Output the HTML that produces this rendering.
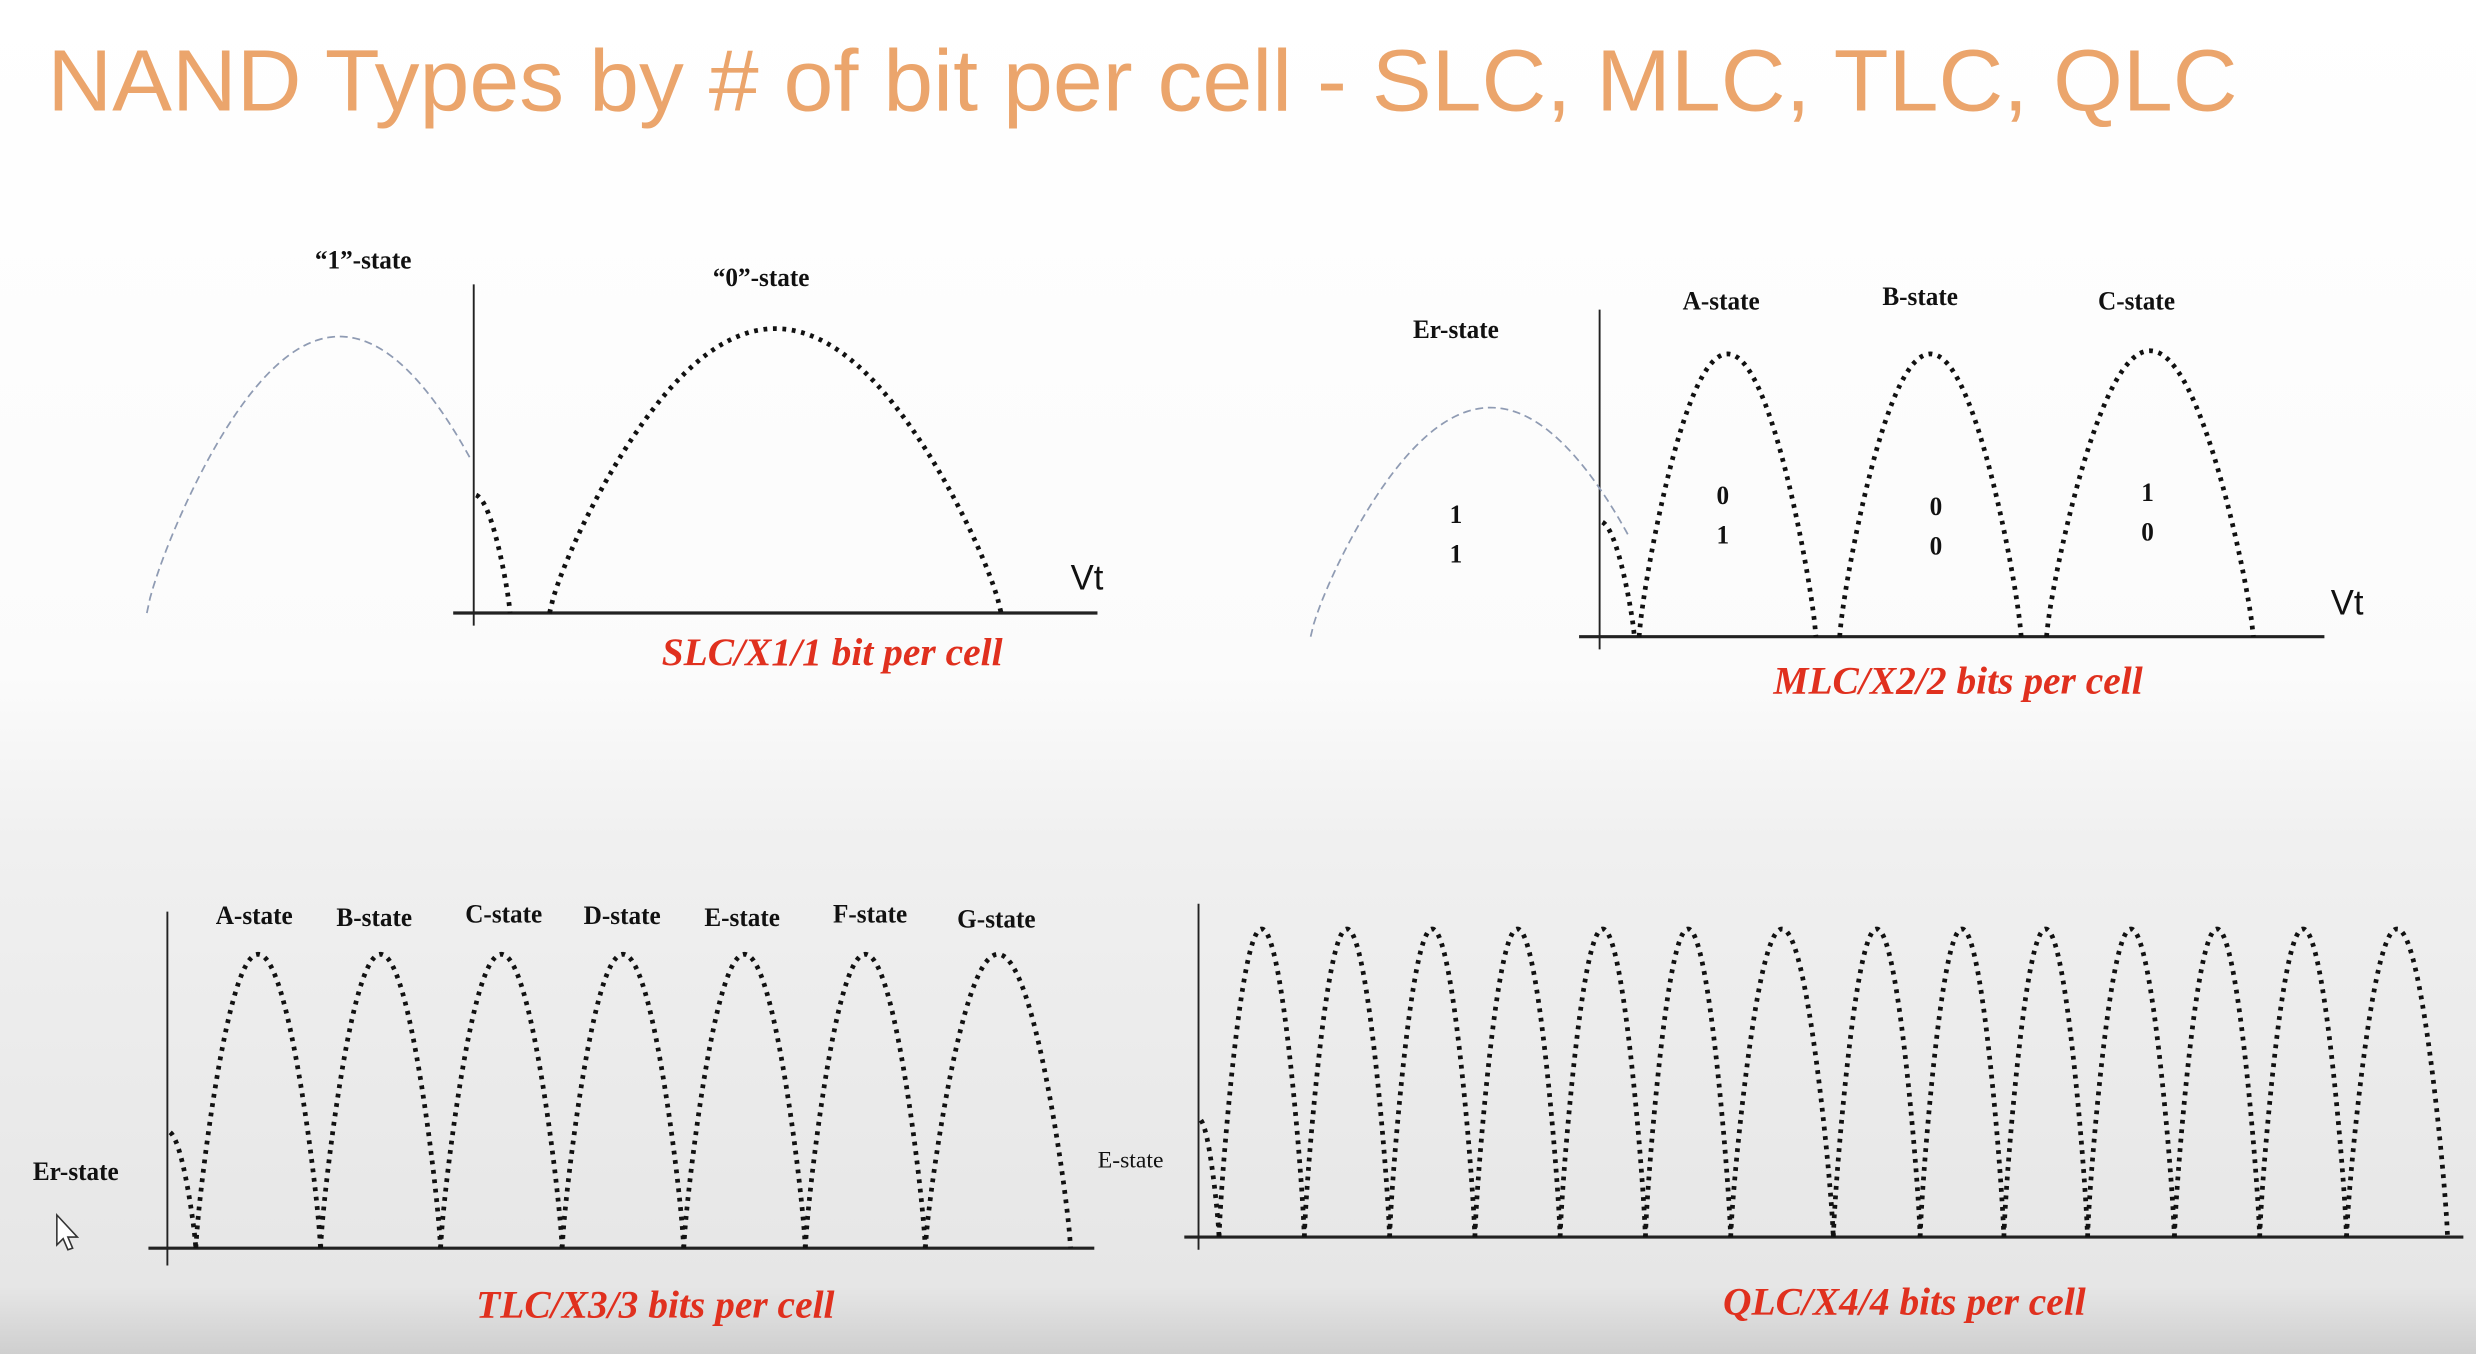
<!DOCTYPE html>
<html><head><meta charset="utf-8"><style>
html,body{margin:0;padding:0;width:2476px;height:1354px;overflow:hidden;background:#fff}
svg{display:block}
.lb{font-family:"Liberation Serif",serif;font-weight:bold;font-size:17px;fill:#111;text-anchor:middle}
.cap{font-family:"Liberation Serif",serif;font-weight:bold;font-style:italic;font-size:25px;fill:#e0301e;text-anchor:middle}
.vt{font-family:"Liberation Sans",sans-serif;font-size:22px;fill:#111}
</style></head><body>
<svg id="chart" width="2476" height="1354" viewBox="0 0 1568 857" preserveAspectRatio="none" xmlns="http://www.w3.org/2000/svg">
<defs><linearGradient id="bg" x1="0" y1="0" x2="0" y2="1">
<stop offset="0" stop-color="#ffffff"/><stop offset="0.5" stop-color="#fbfbfb"/><stop offset="0.62" stop-color="#f0f0f0"/><stop offset="0.95" stop-color="#e6e6e6"/><stop offset="1" stop-color="#cfcfcf"/></linearGradient></defs>
<rect x="0" y="0" width="1568" height="857" fill="url(#bg)"/>
<text x="30" y="70" font-family="Liberation Sans,sans-serif" font-size="55" fill="#eba56c" textLength="1387" lengthAdjust="spacingAndGlyphs">NAND Types by # of bit per cell - SLC, MLC, TLC, QLC</text>

<g id="slc">
<text class="lb" x="230" y="170">“1”-state</text>
<text class="lb" x="482" y="181">“0”-state</text>
<text class="vt" x="678" y="373">Vt</text>
<text class="cap" x="527" y="421">SLC/X1/1 bit per cell</text>
</g>
<g id="mlc">
<text class="lb" x="922" y="214">Er-state</text>
<text class="lb" x="1090" y="196">A-state</text>
<text class="lb" x="1216" y="193">B-state</text>
<text class="lb" x="1353" y="196">C-state</text>
<text class="lb" x="922" y="331">1</text><text class="lb" x="922" y="356">1</text>
<text class="lb" x="1091" y="319">0</text><text class="lb" x="1091" y="344">1</text>
<text class="lb" x="1226" y="326">0</text><text class="lb" x="1226" y="351">0</text>
<text class="lb" x="1360" y="317">1</text><text class="lb" x="1360" y="342">0</text>
<text class="vt" x="1476" y="389">Vt</text>
<text class="cap" x="1240" y="439">MLC/X2/2 bits per cell</text>
</g>
<g id="tlc">
<text class="lb" x="48" y="747">Er-state</text>
<text class="lb" x="161" y="585">A-state</text>
<text class="lb" x="237" y="586">B-state</text>
<text class="lb" x="319" y="584">C-state</text>
<text class="lb" x="394" y="585">D-state</text>
<text class="lb" x="470" y="586">E-state</text>
<text class="lb" x="551" y="584">F-state</text>
<text class="lb" x="631" y="587">G-state</text>
<text class="cap" x="415" y="834">TLC/X3/3 bits per cell</text>
<path d="M36 769 L36 788 L40 784 L43 791 L46 790 L43 783 L49 783 Z" fill="#fff" stroke="#333" stroke-width="1"/>
</g>
<g id="qlc">
<text x="716" y="739" font-family="Liberation Serif,serif" font-size="15" text-anchor="middle" fill="#111">E-state</text>
<text class="cap" x="1206" y="832">QLC/X4/4 bits per cell</text>
</g>
</svg>
<script>
// Data (units: Vt / distribution height, arbitrary)
const slcGhost = [-20.7, 3.7, 17.5];
const slcStarts = [4.8];
const slcEnds = [33.4];
const slcPeaks = [18.0];
const mlcGhost = [-18.3, 4.5, 14.5];
const mlcStarts = [2.5, 15.2, 28.3];
const mlcEnds = [13.7, 26.7, 41.4];
const mlcPeaks = [17.9, 17.9, 18.1];
const tlcBounds = [1.8, 9.7, 17.3, 25.0, 32.7, 40.4, 48.0, 57.2];
const tlcPeaks = [18.6, 18.6, 18.6, 18.6, 18.6, 18.6, 18.6];
const qlcBounds = [1.3, 6.7, 12.1, 17.5, 22.9, 28.3, 33.7, 40.2, 45.7, 51.0, 56.3, 61.8, 67.2, 72.7, 79.1];
const qlcPeaks = [19.5, 19.5, 19.5, 19.5, 19.5, 19.5, 19.5, 19.5, 19.5, 19.5, 19.5, 19.5, 19.5, 19.5];
const erTails = [[2.3, 7.5], [2.2, 7.3], [1.8, 7.4], [1.3, 7.5]];

const NS = "http://www.w3.org/2000/svg";
function mk(tag, attrs, parent){const e=document.createElementNS(NS,tag);for(const k in attrs)e.setAttribute(k,attrs[k]);parent.appendChild(e);return e;}
function scales(ox, oy){return {x:v=>ox+v*10, y:v=>oy-v*10};}
function arcPath(s, a, b, h, lo, hi){
  let d="";let first=true;
  for(let i=0;i<=120;i++){
    const v=a+(b-a)*i/120;
    if(lo!==undefined && v<lo) continue;
    if(hi!==undefined && v>hi) continue;
    const u=(v-a)/(b-a);
    const hv=h*Math.pow(Math.max(0,Math.sin(Math.PI*u)),0.8);
    d+=(first?"M":"L")+s.x(v).toFixed(2)+" "+s.y(hv).toFixed(2)+" ";first=false;
  }
  return d;
}
function axes(g, s, yTop, x0, x1, yBot){
  const ya=mk('line',{x1:s.x(0),y1:yTop,x2:s.x(0),y2:yBot,stroke:'#222','stroke-width':1.2},g);
  
  
  const xa=mk('line',{x1:x0,y1:s.y(0),x2:x1,y2:s.y(0),stroke:'#222','stroke-width':2},g);
  
  
}
function dotted(g, d, name){
  const p=mk('path',{d:d,fill:'none',stroke:'#111','stroke-width':3,'stroke-dasharray':'2.4 3.6'},g);
  
  
}
function ghost(g, d){
  const p=mk('path',{d:d,fill:'none',stroke:'#8f9bb3','stroke-width':1.1,'stroke-dasharray':'5 3'},g);
  
  
}
function tail(g, s, t){ dotted(g, arcPath(s, -t[0], t[0], t[1], 0.15), 'er-state-tail'); }

// SLC
(function(){const g=document.getElementById('slc');const s=scales(300,388);
 axes(g,s,180,287,695,396);
 ghost(g,arcPath(s,slcGhost[0],slcGhost[1],slcGhost[2],undefined,0));
 tail(g,s,erTails[0]);
 for(let i=0;i<slcStarts.length;i++) dotted(g,arcPath(s,slcStarts[i],slcEnds[i],slcPeaks[i]),'state-0-distribution');
})();
// MLC
(function(){const g=document.getElementById('mlc');const s=scales(1013,403);
 axes(g,s,196,1000,1472,411);
 ghost(g,arcPath(s,mlcGhost[0],mlcGhost[1],mlcGhost[2],undefined,1.9));
 tail(g,s,erTails[1]);
 for(let i=0;i<mlcStarts.length;i++) dotted(g,arcPath(s,mlcStarts[i],mlcEnds[i],mlcPeaks[i]),'mlc-state-distribution');
})();
// TLC
(function(){const g=document.getElementById('tlc');const s=scales(106,790);
 axes(g,s,577,94,693,801);
 tail(g,s,erTails[2]);
 for(let i=0;i<tlcPeaks.length;i++) dotted(g,arcPath(s,tlcBounds[i],tlcBounds[i+1],tlcPeaks[i]),'tlc-state-distribution');
})();
// QLC
(function(){const g=document.getElementById('qlc');const s=scales(759,783);
 axes(g,s,572,750,1560,791);
 tail(g,s,erTails[3]);
 for(let i=0;i<qlcPeaks.length;i++) dotted(g,arcPath(s,qlcBounds[i],qlcBounds[i+1],qlcPeaks[i]),'qlc-state-distribution');
})();
// slightly condense label text to mimic narrow serif
document.querySelectorAll('.lb').forEach(t=>{const x=+t.getAttribute('x');const y=+t.getAttribute('y');t.setAttribute('transform','translate('+x+' '+y+') scale(0.94 1) translate('+(-x)+' '+(-y)+')');});
</script>
</body></html>
